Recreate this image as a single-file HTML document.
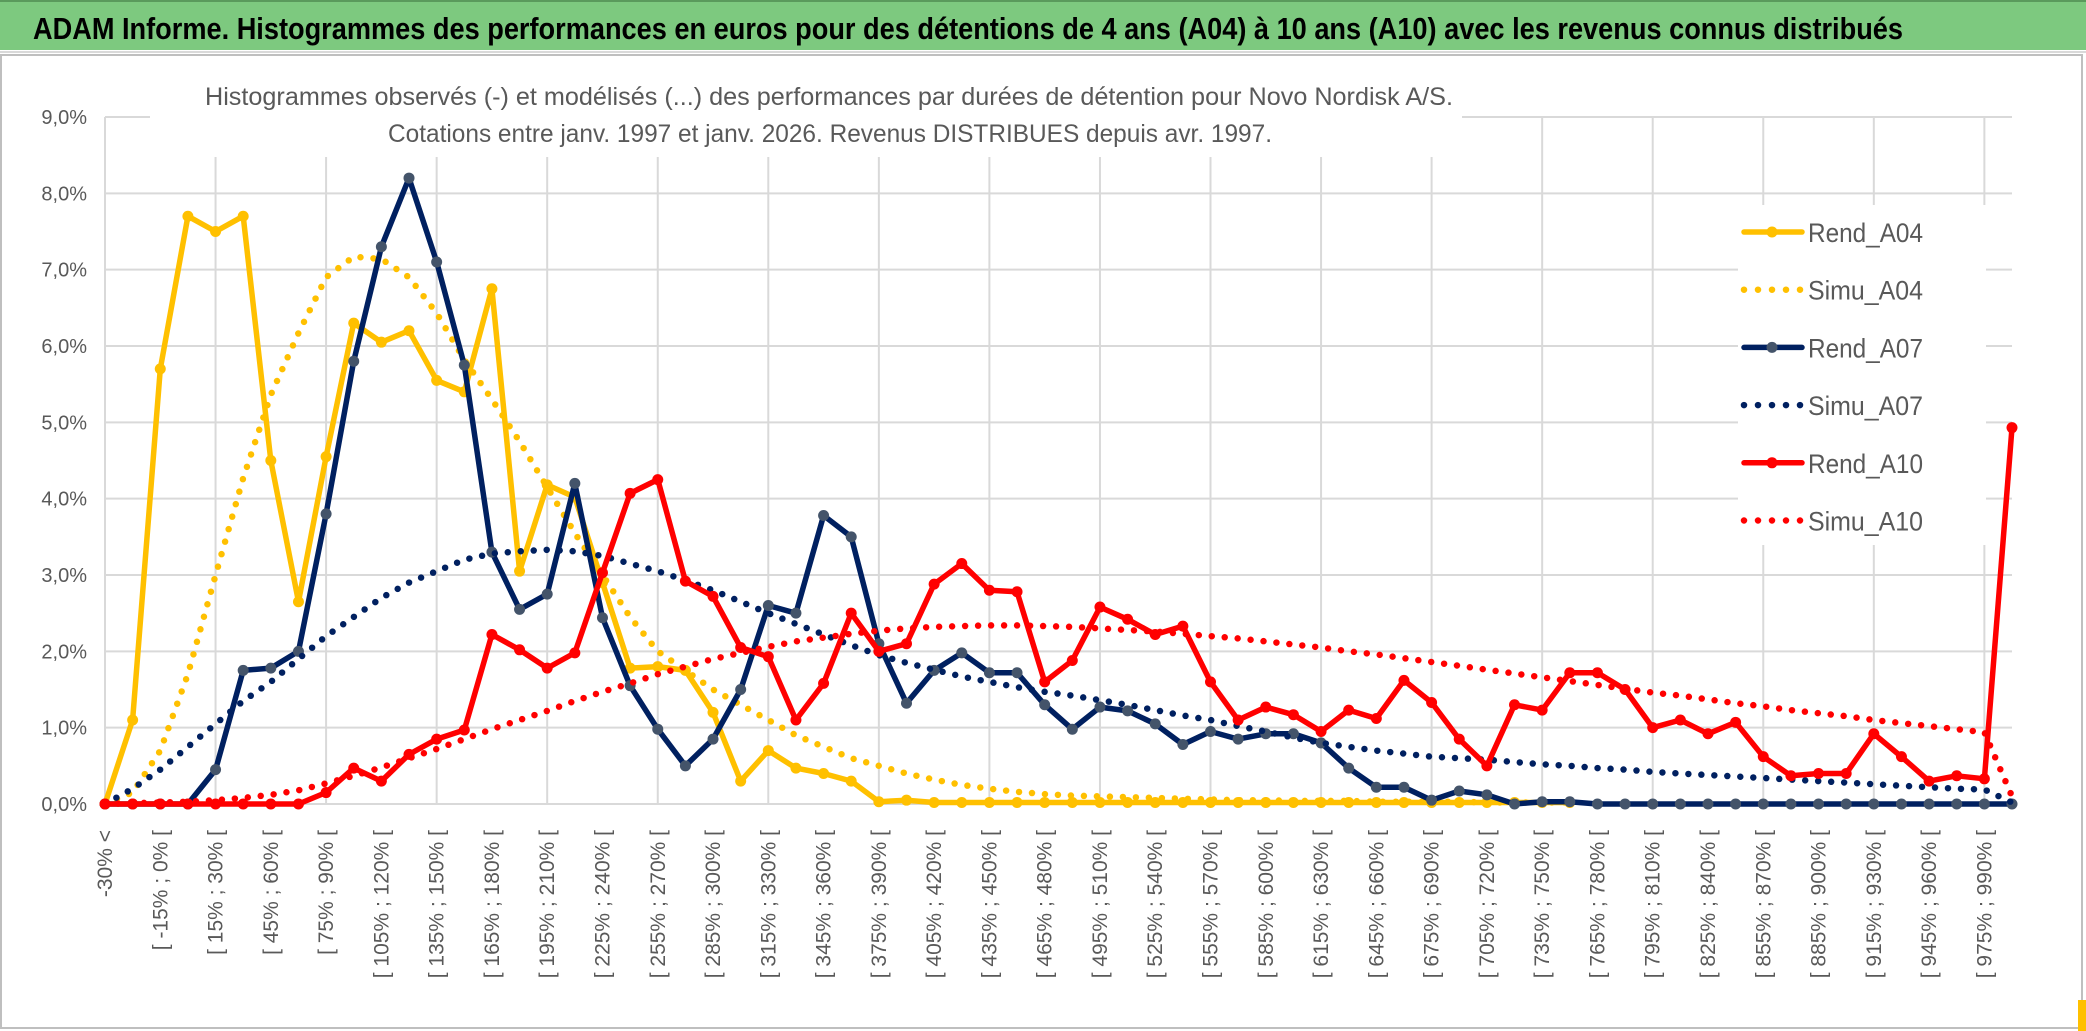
<!DOCTYPE html>
<html>
<head>
<meta charset="utf-8">
<style>
  html,body{margin:0;padding:0;background:#fff;}
  svg{display:block;}
  text{font-family:"Liberation Sans",sans-serif;}
</style>
</head>
<body>
<svg id="chart" width="2086" height="1031" viewBox="0 0 2086 1031" xmlns="http://www.w3.org/2000/svg">
  <rect x="0" y="0" width="2086" height="1031" fill="#fff"/>
  <rect x="0" y="0" width="2086" height="50" fill="#7DC97F"/>
  <line x1="0" y1="1" x2="2086" y2="1" stroke="#5a9a5c" stroke-width="2"/>
  <line x1="0" y1="52" x2="2086" y2="52" stroke="#d9d9d9" stroke-width="2"/>
  <text x="33" y="39" font-size="31" font-weight="bold" fill="#000" textLength="1870" lengthAdjust="spacingAndGlyphs">ADAM Informe. Histogrammes des performances en euros pour des détentions de 4 ans (A04) à 10 ans (A10) avec les revenus connus distribués</text>
  <rect x="1" y="55" width="2081" height="973" fill="none" stroke="#bfbfbf" stroke-width="2"/>
  <rect x="2078" y="1000" width="8" height="31" fill="#FFC000"/>
  <g id="grid"></g>
  <g id="yticks"></g>
  <g id="xticks"></g>
  <rect x="150" y="62" width="1312" height="95" fill="#fff"/>
  <text x="205" y="105" font-size="25" fill="#595959" textLength="1248" lengthAdjust="spacingAndGlyphs">Histogrammes observés (-) et modélisés (...) des performances par durées de détention pour Novo Nordisk A/S.</text>
  <text x="388" y="142" font-size="25" fill="#595959" textLength="884" lengthAdjust="spacingAndGlyphs">Cotations entre janv. 1997 et janv. 2026. Revenus DISTRIBUES depuis avr. 1997.</text>
  <g id="series"></g>
  <g id="legend"></g>
</svg>
<script>
const categories = [];
for (let i = 0; i < 70; i++) {
  if (i === 0) categories.push("-30% <");
  else { const a = -30 + 15 * (i - 1); categories.push("[ " + a + "% ; " + (a + 15) + "% ["); }
}
const yTicks = [0,1,2,3,4,5,6,7,8,9];
const yTickLabels = ["0,0%","1,0%","2,0%","3,0%","4,0%","5,0%","6,0%","7,0%","8,0%","9,0%"];

const rendA04 = [0,1.1,5.7,7.7,7.5,7.7,4.5,2.65,4.55,6.3,6.05,6.2,5.55,5.4,6.75,3.05,4.18,4.02,2.9,1.78,1.8,1.75,1.2,0.3,0.7,0.47,0.4,0.3,0.03,0.05,0.02,0.02,0.02,0.02,0.02,0.02,0.02,0.02,0.02,0.02,0.02,0.02,0.02,0.02,0.02,0.02,0.02,0.02,0.02,0.02,0.02,0.02,0.02,0.02,null,null,null,null,null,null,null,null,null,null,null,null,null,null,null,null];
const simuA04 = [0,0.15,0.7,1.7,3.0,4.27,5.36,6.17,6.9,7.17,7.14,6.9,6.43,5.82,5.3,4.75,4.15,3.55,3.0,2.45,2.0,1.75,1.5,1.3,1.1,0.9,0.75,0.6,0.5,0.4,0.32,0.25,0.2,0.16,0.13,0.11,0.1,0.09,0.08,0.07,0.06,0.05,0.05,0.04,0.04,0.04,0.03,0.03,0.03,0.03,0.02,0.02,0.02,0.02,null,null,null,null,null,null,null,null,null,null,null,null,null,null,null,null];
const rendA07 = [0,0,0,0,0.45,1.75,1.78,2.0,3.8,5.8,7.3,8.2,7.1,5.75,3.3,2.55,2.75,4.2,2.44,1.55,0.98,0.5,0.85,1.5,2.6,2.5,3.78,3.5,2.1,1.32,1.75,1.98,1.72,1.72,1.3,0.98,1.27,1.22,1.05,0.78,0.95,0.85,0.92,0.92,0.8,0.47,0.22,0.22,0.05,0.17,0.12,0,0.03,0.03,0,0,0,0,0,0,0,0,0,0,0,0,0,0,0,0];
const simuA07 = [0,0.2,0.45,0.75,1.05,1.35,1.6,1.9,2.2,2.45,2.7,2.9,3.05,3.2,3.28,3.31,3.33,3.31,3.25,3.15,3.05,2.93,2.8,2.65,2.5,2.36,2.22,2.08,1.95,1.85,1.76,1.67,1.6,1.53,1.47,1.42,1.36,1.3,1.23,1.16,1.1,1.02,0.95,0.87,0.8,0.75,0.7,0.66,0.62,0.6,0.58,0.55,0.52,0.5,0.47,0.45,0.42,0.4,0.38,0.36,0.34,0.32,0.3,0.28,0.26,0.24,0.22,0.2,0.19,0.02];
const rendA10 = [0,0,0,0,0,0,0,0,0.15,0.47,0.3,0.65,0.85,0.97,2.22,2.02,1.78,1.98,3.03,4.07,4.25,2.92,2.72,2.05,1.93,1.1,1.58,2.5,2.0,2.1,2.88,3.15,2.8,2.78,1.6,1.88,2.58,2.42,2.22,2.33,1.6,1.1,1.27,1.17,0.95,1.23,1.12,1.62,1.33,0.85,0.5,1.3,1.23,1.72,1.72,1.5,1.0,1.1,0.92,1.07,0.62,0.37,0.4,0.4,0.92,0.62,0.3,0.37,0.33,4.93];
const simuA10 = [0,0.01,0.02,0.03,0.05,0.08,0.12,0.18,0.27,0.37,0.48,0.6,0.72,0.85,0.98,1.1,1.22,1.35,1.47,1.58,1.7,1.8,1.9,1.98,2.06,2.13,2.18,2.23,2.27,2.3,2.32,2.33,2.34,2.34,2.33,2.32,2.3,2.28,2.26,2.23,2.2,2.17,2.13,2.09,2.05,2.0,1.96,1.91,1.86,1.81,1.76,1.71,1.66,1.61,1.56,1.51,1.46,1.42,1.37,1.32,1.28,1.23,1.19,1.15,1.1,1.06,1.02,0.98,0.94,0.1];

const NS = "http://www.w3.org/2000/svg";
const X0 = 105, X1 = 2012, Y0 = 804, Y9 = 117;
function xScale(i){ return X0 + i * (X1 - X0) / (categories.length - 1); }
function yScale(v){ return Y0 - v * (Y0 - Y9) / 9; }
function mk(tag, attrs, parent){ const e = document.createElementNS(NS, tag); for (const k in attrs) e.setAttribute(k, attrs[k]); parent.appendChild(e); return e; }

const grid = document.getElementById("grid");
yTicks.forEach((t, k) => {
  const l = mk("line", {x1: X0, x2: X1, y1: yScale(t), y2: yScale(t), stroke: "#d9d9d9", "stroke-width": 2}, grid);
  
  
});
for (let i = 0; i < categories.length; i += 4) {
  const l = mk("line", {x1: xScale(i), x2: xScale(i), y1: Y9, y2: Y0, stroke: "#d9d9d9", "stroke-width": 2}, grid);
  
  
}
const yg = document.getElementById("yticks");
yTicks.forEach((t, k) => {
  const tx = mk("text", {x: 87, y: yScale(t) + 7, "text-anchor": "end", "font-size": 20, fill: "#595959"}, yg);
  tx.textContent = yTickLabels[k];
  
  
});
const xg = document.getElementById("xticks");
for (let i = 0; i < categories.length; i += 2) {
  const x = xScale(i) + 7, y = 830;
  const tx = mk("text", {x: x, y: y, "text-anchor": "end", "font-size": 21, fill: "#595959", transform: "rotate(-90 " + x + " " + y + ")"}, xg);
  tx.textContent = categories[i];
  
  
}

const seriesG = document.getElementById("series");
const seriesList = [
  {name: "Rend_A04", data: rendA04, color: "#FFC000", marker: "#FFC000", dotted: false},
  {name: "Simu_A04", data: simuA04, color: "#FFC000", dotted: true},
  {name: "Rend_A07", data: rendA07, color: "#002060", marker: "#44546A", dotted: false},
  {name: "Simu_A07", data: simuA07, color: "#002060", dotted: true},
  {name: "Rend_A10", data: rendA10, color: "#FF0000", marker: "#FF0000", dotted: false},
  {name: "Simu_A10", data: simuA10, color: "#FF0000", dotted: true}
];
seriesList.forEach(s => {
  const g = mk("g", {}, seriesG);
  
  
  let d = "", started = false;
  s.data.forEach((v, i) => {
    if (v === null) { started = false; return; }
    d += (started ? "L" : "M") + xScale(i).toFixed(1) + "," + yScale(v).toFixed(1);
    started = true;
  });
  const p = mk("path", {d: d, fill: "none", stroke: s.color, "stroke-width": s.dotted ? 6.5 : 5.5, "stroke-linejoin": "round", "stroke-linecap": "round"}, g);
  if (s.dotted) p.setAttribute("stroke-dasharray", "0 13");
  
  
  if (!s.dotted) {
    s.data.forEach((v, i) => {
      if (v === null) return;
      const c = mk("circle", {cx: xScale(i), cy: yScale(v), r: 5.5, fill: s.marker}, g);
      
      
    });
  }
});

const lg = document.getElementById("legend");
const lbg = mk("rect", {x: 1738, y: 205, width: 248, height: 340, fill: "#fff"}, lg);


seriesList.forEach((s, k) => {
  const y = 232 + k * 57.7;
  const g = mk("g", {}, lg);
  
  
  const l = mk("line", {x1: 1744, x2: 1802, y1: y, y2: y, stroke: s.color, "stroke-width": s.dotted ? 6.5 : 5.5, "stroke-linecap": "round"}, g);
  if (s.dotted) l.setAttribute("stroke-dasharray", "0 14");
  if (!s.dotted) mk("circle", {cx: 1772, cy: y, r: 5.5, fill: s.marker}, g);
  const t = mk("text", {x: 1808, y: y + 10, "font-size": 27, fill: "#595959", textLength: 115, lengthAdjust: "spacingAndGlyphs"}, g);
  t.textContent = s.name;
});
</script>
</body>
</html>
